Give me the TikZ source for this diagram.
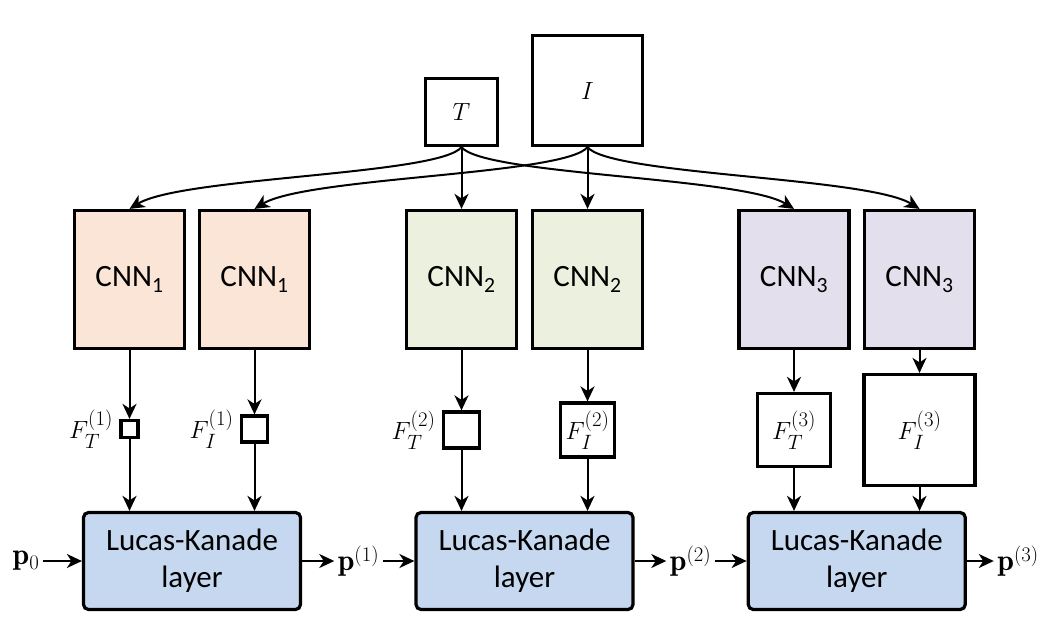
\documentclass[tikz,border=0pt]{standalone}
\usepackage{fontspec}
\setsansfont{Carlito}
\usepackage{amsmath}
\usepackage{xcolor}
\usepackage{tikz}
\usetikzlibrary{positioning}
\usetikzlibrary{arrows.meta, calc}

\definecolor{cnnorange}{HTML}{FBE5D6}
\definecolor{cnngreen}{HTML}{EBF1DE}
\definecolor{cnnpurple}{HTML}{E4DFEC}
\definecolor{lkblue}{HTML}{C6D8EF}

\begin{document}
\begin{tikzpicture}[x=1pt, y=-1pt,
    font=\fontsize{31}{37}\selectfont,
    >={Stealth[length=15pt,width=14pt,inset=4.5pt]},
    imgbox/.style={draw, line width=3.2pt, inner sep=0pt},
    cnnbox/.style={draw, line width=3.2pt, minimum width=110, minimum height=138,
        font=\fontsize{31}{38}\selectfont\sffamily},
    featbox/.style={draw, line width=3.2pt, inner sep=0pt},
    lkbox/.style={draw, line width=3.2pt, rounded corners=5pt, fill=lkblue,
        minimum width=217, minimum height=97, align=center,
        font=\fontsize{31}{37}\selectfont\sffamily},
    plabel/.style={font=\fontsize{30}{36}\selectfont},
    flow/.style={->, line width=2pt}]

    \useasboundingbox (0,0) rectangle (1056,629);

    % input images
    \node[imgbox, minimum width=72, minimum height=67] (T) at (461.5,112) {$T$};
    \node[imgbox, minimum size=110] (I) at (587.5,90.5) {$I$};

    % feature extractors
    \node[cnnbox, fill=cnnorange] (cnn1a) at (129.5,279.5) {CNN\textsubscript{1}};
    \node[cnnbox, fill=cnnorange] (cnn1b) at (254.5,279.5) {CNN\textsubscript{1}};
    \node[cnnbox, fill=cnngreen] (cnn2a) at (461.5,279.5) {CNN\textsubscript{2}};
    \node[cnnbox, fill=cnngreen] (cnn2b) at (587.5,279.5) {CNN\textsubscript{2}};
    \node[cnnbox, fill=cnnpurple] (cnn3a) at (794,279.5) {CNN\textsubscript{3}};
    \node[cnnbox, fill=cnnpurple] (cnn3b) at (919.5,279.5) {CNN\textsubscript{3}};

    % feature maps
    \node[featbox, minimum size=17] (ft1) at (129.5,429) {};
    \node[left=3pt of ft1] (ft1lbl) {$F_T^{(1)}$};
    \node[featbox, minimum size=26] (fi1) at (254.5,429) {};
    \node[left=3pt of fi1] (fi1lbl) {$F_I^{(1)}$};
    \node[featbox, minimum size=36] (ft2) at (461.5,430) {};
    \node[left=3pt of ft2] (ft2lbl) {$F_T^{(2)}$};
    \node[featbox, minimum size=54] (fi2) at (587.5,430) {$F_I^{(2)}$};
    \node[featbox, minimum size=73] (ft3) at (794,430) {$F_T^{(3)}$};
    \node[featbox, minimum size=111] (fi3) at (919.5,430) {$F_I^{(3)}$};

    % Lucas-Kanade layers
    \node[lkbox] (lk1) at (192,561) {Lucas-Kanade\\layer};
    \node[lkbox] (lk2) at (524.5,561) {Lucas-Kanade\\layer};
    \node[lkbox] (lk3) at (856.75,561) {Lucas-Kanade\\layer};

    % warp parameters
    \node[plabel] (p0) at (26,561) {$\mathbf{p}_0$};
    \node[plabel] (p1) at (358.5,561) {$\mathbf{p}^{(1)}$};
    \node[plabel] (p2) at (690.5,561) {$\mathbf{p}^{(2)}$};
    \node[plabel] (p3) at (1018,561) {$\mathbf{p}^{(3)}$};

    % images to CNNs
    \draw[flow] (T.south) .. controls +(-22,28) and +(52,-32) .. (cnn1a.north);
    \draw[flow] (T) -- (cnn2a);
    \draw[flow] (T.south) .. controls +(22,28) and +(-52,-32) .. (cnn3a.north);
    \draw[flow] (I.south) .. controls +(-22,28) and +(52,-32) .. (cnn1b.north);
    \draw[flow] (I) -- (cnn2b);
    \draw[flow] (I.south) .. controls +(22,28) and +(-52,-32) .. (cnn3b.north);

    % CNNs to features to LK
    \draw[flow] (cnn1a) -- (ft1);
    \draw[flow] (cnn1b) -- (fi1);
    \draw[flow] (cnn2a) -- (ft2);
    \draw[flow] (cnn2b) -- (fi2);
    \draw[flow] (cnn3a) -- (ft3);
    \draw[flow] (cnn3b) -- (fi3);
    \draw[flow] (ft1) -- (ft1 |- lk1.north);
    \draw[flow] (fi1) -- (fi1 |- lk1.north);
    \draw[flow] (ft2) -- (ft2 |- lk2.north);
    \draw[flow] (fi2) -- (fi2 |- lk2.north);
    \draw[flow] (ft3) -- (ft3 |- lk3.north);
    \draw[flow] (fi3) -- (fi3 |- lk3.north);

    % parameter chain
    \draw[flow] (p0) -- (lk1);
    \draw[flow] (lk1) -- (p1);
    \draw[flow] (p1) -- (lk2);
    \draw[flow] (lk2) -- (p2);
    \draw[flow] (p2) -- (lk3);
    \draw[flow] (lk3) -- (p3);
\end{tikzpicture}
\end{document}
